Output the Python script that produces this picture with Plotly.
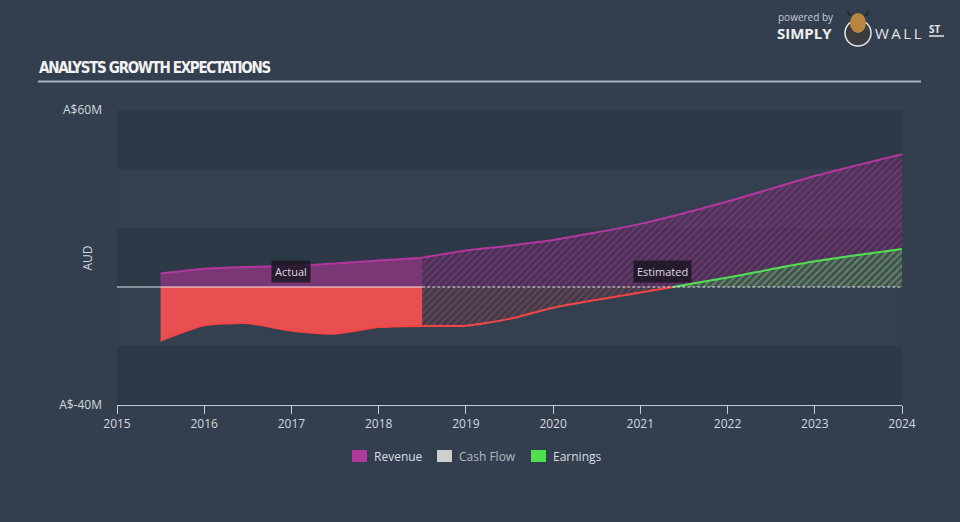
import plotly.graph_objects as go

# ---------------- data (A$ millions) ----------------
actual_dates = [2015.5, 2016.0, 2016.5, 2017.0, 2017.5, 2018.0, 2018.5]
revenue_actual = [4.6, 6.2, 6.8, 7.1, 8.0, 9.0, 9.9]
earnings_actual = [-18.2, -13.0, -12.3, -14.8, -15.8, -13.6, -13.2]

est_dates = [2018.5, 2019.0, 2019.5, 2020.0, 2021.0, 2022.0, 2023.0, 2024.0]
revenue_est = [9.9, 12.4, 14.0, 15.9, 21.4, 29.0, 37.6, 45.0]
earnings_est = [-13.2, -13.1, -10.8, -7.0, -1.9, 3.2, 8.7, 12.9]

year_ticks = list(range(2015, 2025))
y_tick_vals = [60, -40]
y_tick_text = ["A$60M", "A$-40M"]
legend_names = ["Revenue", "Cash Flow", "Earnings"]
legend_colors = ["#b0399b", "#cfcfcf", "#4fe04f"]

# ---------------- geometry helpers ----------------
W, H = 960, 522
L, R, T, B = 117, 902, 110, 405


def px(x):
    return (x - L) / (R - L)


def py(y):
    return (B - y) / (B - T)


# split estimated earnings at the zero crossing
neg_x, neg_y, pos_x, pos_y = [], [], [], []
for i, (x, y) in enumerate(zip(est_dates, earnings_est)):
    if i > 0:
        x0, y0 = est_dates[i - 1], earnings_est[i - 1]
        if (y0 < 0) != (y < 0):
            xc = x0 + (0 - y0) * (x - x0) / (y - y0)
            neg_x.append(xc); neg_y.append(0)
            pos_x.append(xc); pos_y.append(0)
    if y < 0:
        neg_x.append(x); neg_y.append(y)
    else:
        pos_x.append(x); pos_y.append(y)

FONT = "Open Sans, Lato, sans-serif"
TXT = "#d4d8de"

fig = go.Figure()

# revenue actual
fig.add_trace(go.Scatter(
    x=actual_dates, y=revenue_actual, mode="lines", fill="tozeroy",
    fillcolor="#7a3775", line=dict(color="#b4379f", width=2, shape="spline", smoothing=0.6),
    hoverinfo="skip", showlegend=False))
# earnings actual
fig.add_trace(go.Scatter(
    x=actual_dates, y=earnings_actual, mode="lines", fill="tozeroy",
    fillcolor="#e84f51", line=dict(color="#f24646", width=2, shape="spline", smoothing=0.6),
    hoverinfo="skip", showlegend=False))
# revenue estimated (hatched)
fig.add_trace(go.Scatter(
    x=est_dates, y=revenue_est, mode="lines", fill="tozeroy",
    fillcolor="rgba(110,45,105,0.45)",
    fillpattern=dict(shape="/", fgcolor="#9d3590", bgcolor="rgba(100,45,98,0.45)",
                     size=5, solidity=0.35),
    line=dict(color="#b4379f", width=2, shape="spline", smoothing=0.6),
    hoverinfo="skip", showlegend=False))
# earnings estimated negative (hatched red)
fig.add_trace(go.Scatter(
    x=neg_x, y=neg_y, mode="lines", fill="tozeroy",
    fillcolor="rgba(90,55,65,0.4)",
    fillpattern=dict(shape="/", fgcolor="rgba(220,75,80,0.65)", bgcolor="rgba(70,55,68,0.35)",
                     size=5, solidity=0.35),
    line=dict(color="#f24646", width=2, shape="spline", smoothing=0.6),
    hoverinfo="skip", showlegend=False))
# earnings estimated positive (hatched green)
fig.add_trace(go.Scatter(
    x=pos_x, y=pos_y, mode="lines", fill="tozeroy",
    fillcolor="rgba(70,120,80,0.5)",
    fillpattern=dict(shape="/", fgcolor="#5cc85c", bgcolor="rgba(70,95,85,0.6)",
                     size=5, solidity=0.4),
    line=dict(color="#4fe04f", width=2, shape="spline", smoothing=0.6),
    hoverinfo="skip", showlegend=False))

shapes = []
# horizontal bands
for y0, y1 in [(40, 60), (0, 20), (-40, -20)]:
    shapes.append(dict(type="rect", xref="paper", yref="y", x0=0, x1=1, y0=y0, y1=y1,
                       fillcolor="#2e3947", line=dict(width=0), layer="below"))
# zero line
shapes.append(dict(type="line", xref="x", yref="y", x0=2015, x1=actual_dates[-1], y0=0, y1=0,
                   line=dict(color="rgba(255,255,255,0.85)", width=1.2), layer="above"))
shapes.append(dict(type="line", xref="x", yref="y", x0=actual_dates[-1], x1=2024, y0=0, y1=0,
                   line=dict(color="rgba(255,255,255,0.85)", width=1.2, dash="3px,2px"), layer="above"))
# title underline
shapes.append(dict(type="line", xref="paper", yref="paper", x0=px(38), x1=px(921),
                   y0=py(81.5), y1=py(81.5), line=dict(color="#a7afba", width=2)))
# legend squares
for (x0, c) in zip([352, 437, 531], legend_colors):
    shapes.append(dict(type="rect", xref="paper", yref="paper", x0=px(x0), x1=px(x0 + 15),
                       y0=py(450), y1=py(462), fillcolor=c, line=dict(width=0)))
# logo bull
shapes.append(dict(type="circle", xref="paper", yref="paper", x0=px(845), x1=px(871),
                   y0=py(20), y1=py(46), fillcolor="#3c3c40", line=dict(color="#e6e6e6", width=1.5)))
shapes.append(dict(type="circle", xref="paper", yref="paper", x0=px(850), x1=px(866),
                   y0=py(13), y1=py(33), fillcolor="#b98640", line=dict(width=0)))
shapes.append(dict(type="path", xref="paper", yref="paper",
                   path=f"M {px(849)} {py(17)} L {px(846)} {py(9)} L {px(852)} {py(15)} Z "
                        f"M {px(867)} {py(17)} L {px(870)} {py(9)} L {px(864)} {py(15)} Z",
                   fillcolor="#2a2a2a", line=dict(width=0)))

annotations = []
# title
annotations.append(dict(
    text="<span style='letter-spacing:-1.3px'><b>ANALYSTS GROWTH EXPECTATIONS</b></span>",
    xref="paper", yref="paper",
    x=px(37), y=py(68), xanchor="left", yanchor="middle", showarrow=False,
    font=dict(family="DejaVu Sans Condensed, Liberation Sans Narrow, sans-serif",
              size=15, color="#f2f2f2")))
# AUD
annotations.append(dict(text="AUD", xref="paper", yref="paper", x=px(76), y=py(258),
                        textangle=-90, showarrow=False, font=dict(family=FONT, size=12, color=TXT)))
# Actual / Estimated labels
annotations.append(dict(text="Actual", xref="x", yref="y",
                        x=(actual_dates[0] + actual_dates[-1]) / 2, y=5.1, showarrow=False,
                        bgcolor="rgba(28,22,36,0.85)", borderpad=3,
                        font=dict(family=FONT, size=11, color="#dcdce0")))
annotations.append(dict(text="Estimated", xref="x", yref="y",
                        x=(est_dates[0] + est_dates[-1]) / 2, y=5.1, showarrow=False,
                        bgcolor="rgba(28,22,36,0.85)", borderpad=3,
                        font=dict(family=FONT, size=11, color="#dcdce0")))
# legend text
for (x0, name, col) in zip([372, 457, 551], legend_names, ["#dadde2", "#b4b8be", "#dadde2"]):
    annotations.append(dict(text=name, xref="paper", yref="paper", x=px(x0), y=py(456),
                            xanchor="left", yanchor="middle", showarrow=False,
                            font=dict(family=FONT, size=12, color=col)))
# logo text
annotations.append(dict(text="powered by", xref="paper", yref="paper", x=px(776), y=py(17),
                        xanchor="left", yanchor="middle", showarrow=False,
                        font=dict(family=FONT, size=10, color="#c8ccd2")))
annotations.append(dict(text="<b>SIMPLY</b>", xref="paper", yref="paper", x=px(775), y=py(33),
                        xanchor="left", yanchor="middle", showarrow=False,
                        font=dict(family=FONT, size=15, color="#eceef2")))
annotations.append(dict(text="<span style='letter-spacing:2.5px'>WALL</span>", xref="paper", yref="paper",
                        x=px(873), y=py(33),
                        xanchor="left", yanchor="middle", showarrow=False,
                        font=dict(family=FONT, size=15, color="#e4e6ea")))
annotations.append(dict(text="<b>ST</b>", xref="paper", yref="paper", x=px(927), y=py(29),
                        xanchor="left", yanchor="middle", showarrow=False,
                        font=dict(family=FONT, size=10, color="#e4e6ea")))
shapes.append(dict(type="line", xref="paper", yref="paper", x0=px(929), x1=px(944),
                   y0=py(36), y1=py(36), line=dict(color="#e4e6ea", width=1.5)))

fig.update_layout(
    width=W, height=H, autosize=False,
    margin=dict(l=L, r=W - R, t=T, b=H - B),
    paper_bgcolor="#333f4e", plot_bgcolor="#34404f",
    font=dict(family=FONT, size=12, color=TXT),
    showlegend=False,
    shapes=shapes, annotations=annotations,
    xaxis=dict(range=[2015, 2024], tickvals=year_ticks, ticktext=[str(y) for y in year_ticks],
               ticks="outside", ticklen=8, tickcolor="#c3ccd8", tickwidth=1,
               showline=True, linecolor="#c3ccd8", linewidth=1,
               showgrid=False, zeroline=False, tickfont=dict(size=12, color=TXT)),
    yaxis=dict(range=[-40, 60], tickvals=y_tick_vals, ticktext=y_tick_text,
               showgrid=False, zeroline=False, ticks="", ticklabelstandoff=14,
               tickfont=dict(size=12, color=TXT)),
)

fig.write_html("out.html")
